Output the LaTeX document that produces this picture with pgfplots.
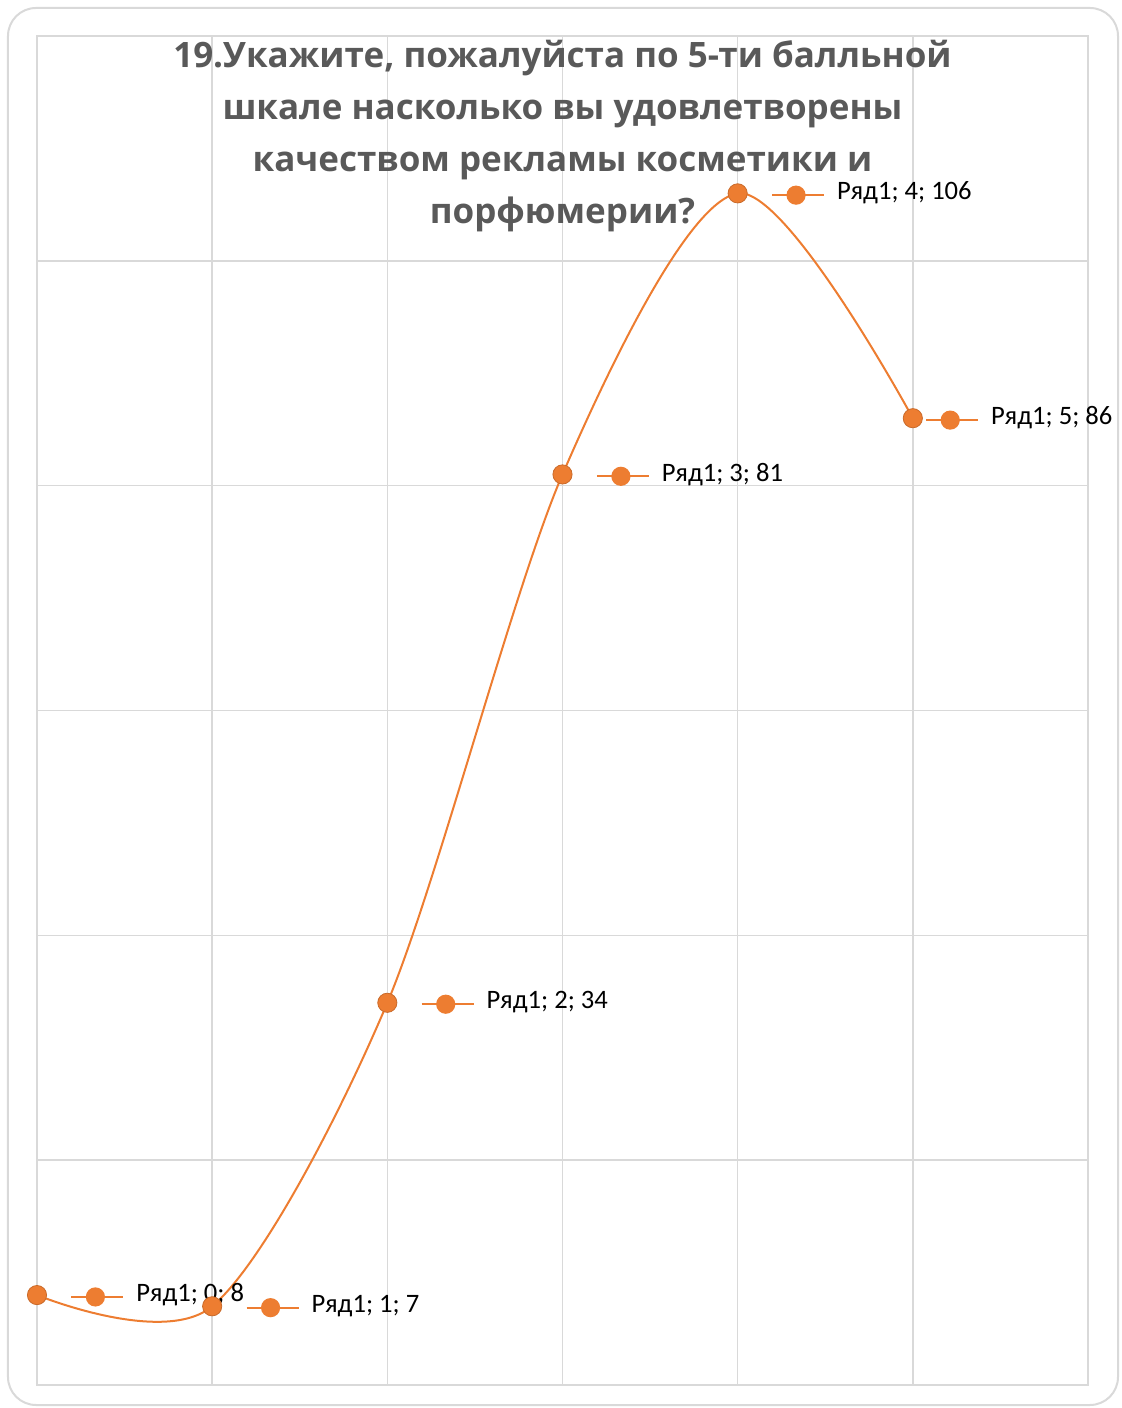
\documentclass[border=0pt]{standalone}
\usepackage{pgfplots}
\pgfplotsset{compat=1.18}
\usepackage{fontspec}
\setmainfont{Carlito}
\newfontfamily\titlefont{Open Sans}
\definecolor{xorange}{HTML}{ED7D31}
\definecolor{xgrid}{HTML}{D9D9D9}
\definecolor{xtitle}{HTML}{595959}
\newsavebox\keybox
\begin{document}
\sbox\keybox{\tikz[baseline=-0.5ex]{\draw[xorange,line width=1pt](0,0)--(26pt,0);\fill[xorange](12pt,0) circle(4.8pt);}}%
\begin{tikzpicture}
\begin{axis}[scale only axis, width=525.5pt, height=674.5pt,
 xmin=0, xmax=6, ymin=0, ymax=120,
 xtick={0,...,6}, ytick={0,20,...,120}, xticklabels={}, yticklabels={},
 major tick length=0pt, grid=major, grid style={xgrid, line width=0.75pt},
 axis line style={xgrid, line width=0.75pt}, clip=false,
 /pgf/number format/assume math mode=true,
 visualization depends on={x \as \xv},
 nodes near coords={\usebox\keybox\hspace{6pt}Ряд1; \pgfmathprintnumber{\xv}; \pgfmathprintnumber{\pgfplotspointmeta}},
 every node near coord/.append style={anchor=west, xshift={(\xv>4.5 ? 6 : 16.5)*1pt}, font=\fontsize{13.3}{15}\selectfont, text=black, inner sep=0pt},
]
\addplot[xorange, line width=1pt, smooth, mark=*, mark size=4.8pt,
  mark options={fill=xorange, draw=xorange!85!black, line width=0.4pt}]
  coordinates {(0,8) (1,7) (2,34) (3,81) (4,106) (5,86)};
\coordinate (ll) at (rel axis cs:0,0);
\coordinate (ur) at (rel axis cs:1,1);
\node[anchor=north, align=center, font=\titlefont\bfseries\fontsize{17.5}{26}\selectfont, text=xtitle, inner sep=0pt]
  at (rel axis cs:0.5,1) [yshift=-2pt] {19.Укажите, пожалуйста по 5-ти балльной\\шкале насколько вы удовлетворены\\качеством рекламы косметики и\\порфюмерии?};
\end{axis}
\draw[xgrid, line width=1pt, rounded corners=14pt] ([shift={(-14.5pt,-10pt)}]ll) rectangle ([shift={(15pt,14pt)}]ur);
\pgfresetboundingbox
\useasboundingbox ([shift={(-18.5pt,-11.5pt)}]ll) rectangle ([shift={(17pt,18pt)}]ur);
\end{tikzpicture}
\end{document}
